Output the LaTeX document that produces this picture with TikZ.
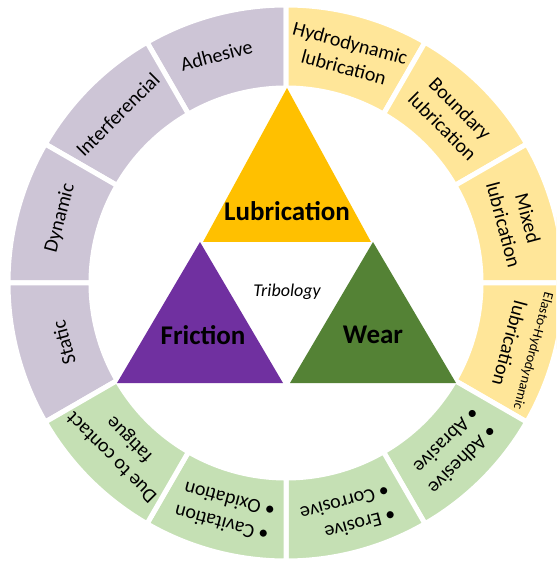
\documentclass[tikz,border=0pt]{standalone}
\usepackage{fontspec}
\setmainfont{Carlito}
\usepackage{tikz}
\definecolor{masat}{RGB}{112,48,160}
\definecolor{boitron}{RGB}{255,192,0}
\definecolor{maimon}{RGB}{84,130,53}
\definecolor{masatnhat}{RGB}{205,197,214}
\definecolor{boitronnhat}{RGB}{255,230,153}
\definecolor{maimonnhat}{RGB}{197,224,180}

\begin{document}
\begin{tikzpicture}[x=1pt,y=1pt,node font=\fontsize{20}{25}\selectfont,
	manh/.style={draw=white,line width=5pt},
	chu/.style={align=center,inner sep=0pt},
	tamgiac/.style={font=\fontsize{27}{30}\selectfont\bfseries}]
	\useasboundingbox (-286,-278) rectangle (270,283);
	\clip (-286,-278) rectangle (270,283);
	% vong ngoai: ma sat
	\filldraw[fill=masatnhat,manh] (90:195) arc (90:120:195) -- (120:278) arc (120:90:278) -- cycle;
	\filldraw[fill=masatnhat,manh] (120:195) arc (120:150:195) -- (150:278) arc (150:120:278) -- cycle;
	\filldraw[fill=masatnhat,manh] (150:195) arc (150:180:195) -- (180:278) arc (180:150:278) -- cycle;
	\filldraw[fill=masatnhat,manh] (180:195) arc (180:210:195) -- (210:278) arc (210:180:278) -- cycle;
	% vong ngoai: boi tron
	\filldraw[fill=boitronnhat,manh] (60:195) arc (60:90:195) -- (90:278) arc (90:60:278) -- cycle;
	\filldraw[fill=boitronnhat,manh] (30:195) arc (30:60:195) -- (60:278) arc (60:30:278) -- cycle;
	\filldraw[fill=boitronnhat,manh] (0:195) arc (0:30:195) -- (30:278) arc (30:0:278) -- cycle;
	\filldraw[fill=boitronnhat,manh] (-30:195) arc (-30:0:195) -- (0:278) arc (0:-30:278) -- cycle;
	% vong ngoai: mai mon
	\filldraw[fill=maimonnhat,manh] (-60:195) arc (-60:-30:195) -- (-30:278) arc (-30:-60:278) -- cycle;
	\filldraw[fill=maimonnhat,manh] (-90:195) arc (-90:-60:195) -- (-60:278) arc (-60:-90:278) -- cycle;
	\filldraw[fill=maimonnhat,manh] (-120:195) arc (-120:-90:195) -- (-90:278) arc (-90:-120:278) -- cycle;
	\filldraw[fill=maimonnhat,manh] (-150:195) arc (-150:-120:195) -- (-120:278) arc (-120:-150:278) -- cycle;
	% ba tam giac
	\fill[boitron] (1,195) -- (85,41) -- (-83,41) -- cycle;
	\fill[masat] (-86,41) -- (-3,-100) -- (-169,-100) -- cycle;
	\fill[maimon] (87,41) -- (170,-100) -- (4,-100) -- cycle;
	\node[tamgiac] (lubrication) at (1,72) {Lubrication};
	\node[tamgiac] (friction) at (-83,-52) {Friction};
	\node[tamgiac] (wear) at (87,-52) {Wear};
	\node[font=\fontsize{18}{20}\selectfont\itshape] (tribology) at (1,-9) {Tribology};
	% nhan ma sat
	\node[chu,rotate=15] (adhesive) at (107:238) {Adhesive};
	\node[chu,rotate=45] (interferencial) at (135:238) {Interferencial};
	\node[chu,rotate=75] (dynamic) at (164:235) {Dynamic};
	\node[chu,rotate=105] (static) at (195:230) {Static};
	% nhan boi tron
	\node[chu,rotate=-15] (hydro) at (75:236) {Hydrodynamic\\lubrication};
	\node[chu,rotate=-45] (boundary) at (45:234) {Boundary\\lubrication};
	\node[chu,rotate=-75] (mixed) at (15:238) {Mixed\\lubrication};
	\node[chu,rotate=-105,font=\fontsize{14}{16}\selectfont] (elasto) at (-15.4:256) {Elasto-Hydrodynamic};
	\node[chu,rotate=-105] (elastolub) at (-15.2:232) {lubrication};
	% nhan mai mon
	\node[chu,align=left,rotate=-135] (abrasive) at (-45:238) {\textbullet~Adhesive\\\textbullet~Abrasive};
	\node[chu,align=left,rotate=-165] (erosive) at (-75:240) {\textbullet~Erosive\\\textbullet~Corrosive};
	\node[chu,align=left,rotate=165] (cavitation) at (-105:237) {\textbullet~Cavitation\\\textbullet~Oxidation};
	\node[chu,rotate=135] (fatigue) at (-135:233) {Due to contact\\fatigue};
\end{tikzpicture}
\end{document}
